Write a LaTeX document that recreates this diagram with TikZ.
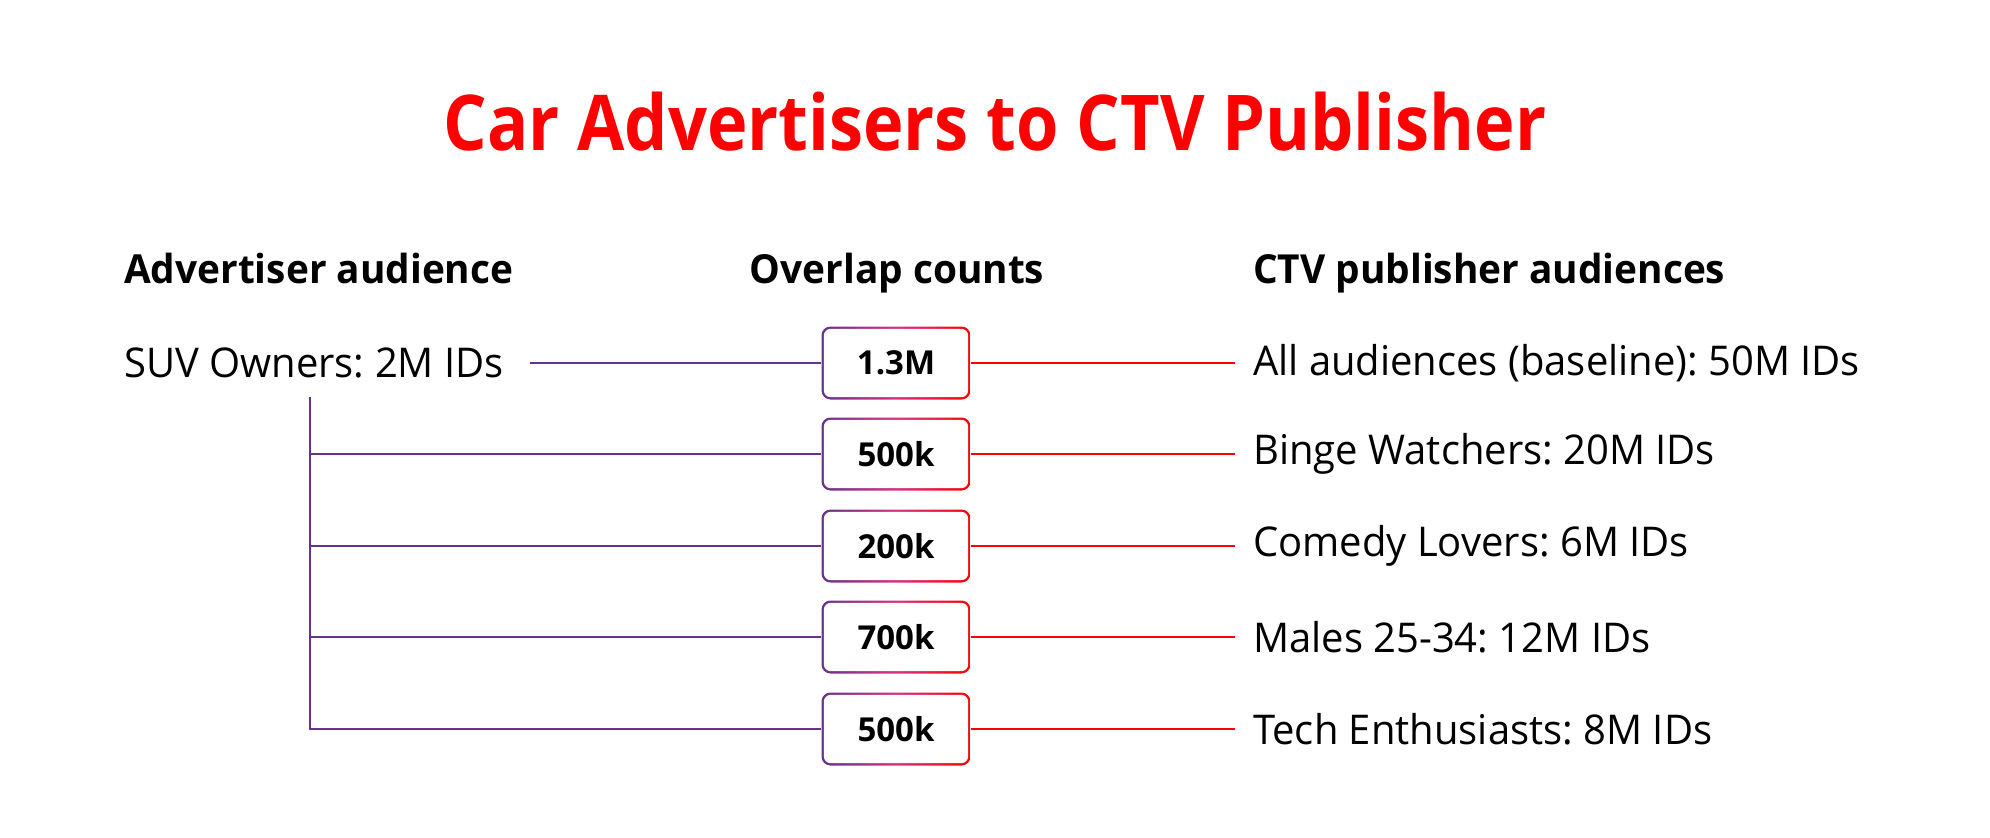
\documentclass[tikz,border=0pt]{standalone}
\usepackage{fontspec}
\setmainfont{Open Sans}
\newfontfamily\titlefont[FakeStretch=0.89]{Open Sans}
\newfontfamily\headfont[FakeStretch=0.97]{Open Sans}
\newfontfamily\labelfont[FakeStretch=0.975]{Open Sans}
\definecolor{pur}{RGB}{102,51,140}
\definecolor{pinkmid}{RGB}{214,51,132}
\definecolor{redc}{RGB}{255,0,0}
\tikzset{
  x=1pt, y=-1pt,
  title/.style={anchor=base, inner sep=0pt, text=redc, font=\titlefont\bfseries\fontsize{77}{90}\selectfont},
  header/.style={anchor=base west, inner sep=0pt, font=\headfont\bfseries\fontsize{40}{48}\selectfont},
  label/.style={anchor=base west, inner sep=0pt, font=\labelfont\fontsize{41}{48}\selectfont},
  countbox/.style={rounded corners=9pt, minimum width=149pt, minimum height=73pt, inner sep=0pt,
    left color=pur, right color=redc, middle color=pinkmid,
    font=\bfseries\fontsize{33}{40}\selectfont,
    path picture={\fill[white, rounded corners=7pt]
      ([shift={(2.3pt,2.3pt)}]path picture bounding box.south west) rectangle
      ([shift={(-2.3pt,-2.3pt)}]path picture bounding box.north east);}},
  leftline/.style={draw=pur, line width=2pt},
  rightline/.style={draw=redc, line width=2pt},
}
\begin{document}
\frenchspacing
\begin{tikzpicture}
\useasboundingbox (0,0) rectangle (1990,838);
\node[title] (t) at (995,150) {Car Advertisers to CTV Publisher};
\node[header] (h1) at (124,283) {Advertiser audience};
\node[header, anchor=base] (h2) at (897,283) {Overlap counts};
\node[header] (h3) at (1253,283) {CTV publisher audiences};
\node[label] (suv) at (124,377) {SUV Owners: 2M IDs};
\coordinate (suvend) at (530,363);
\coordinate (vtop) at (310,397);
\node[countbox] (b1) at (896,363) {1.3M};
\node[countbox] (b2) at (896,454) {500k};
\node[countbox] (b3) at (896,546) {200k};
\node[countbox] (b4) at (896,637) {700k};
\node[countbox] (b5) at (896,729) {500k};
\foreach \i/\y in {1/363,2/454,3/546,4/637,5/729}{
  \coordinate (r\i) at (1235,\y);
}
\node[label, anchor=west] (a1) at (1253,363) {All audiences (baseline): 50M IDs};
\node[label, anchor=west] (a2) at (1253,454) {Binge Watchers: 20M IDs};
\node[label, anchor=west] (a3) at (1253,546) {Comedy Lovers: 6M IDs};
\node[label, anchor=west] (a4) at (1253,637) {Males 25-34: 12M IDs};
\node[label, anchor=west] (a5) at (1253,729) {Tech Enthusiasts: 8M IDs};
\draw[leftline] (suvend) -- (b1.west);
\draw[leftline] (vtop) |- (b5.west);
\foreach \i in {2,3,4}{
  \draw[leftline] (vtop |- b\i.west) -- (b\i.west);
}
\foreach \i in {1,...,5}{
  \draw[rightline] (b\i.east) -- (r\i);
}
\end{tikzpicture}
\end{document}
